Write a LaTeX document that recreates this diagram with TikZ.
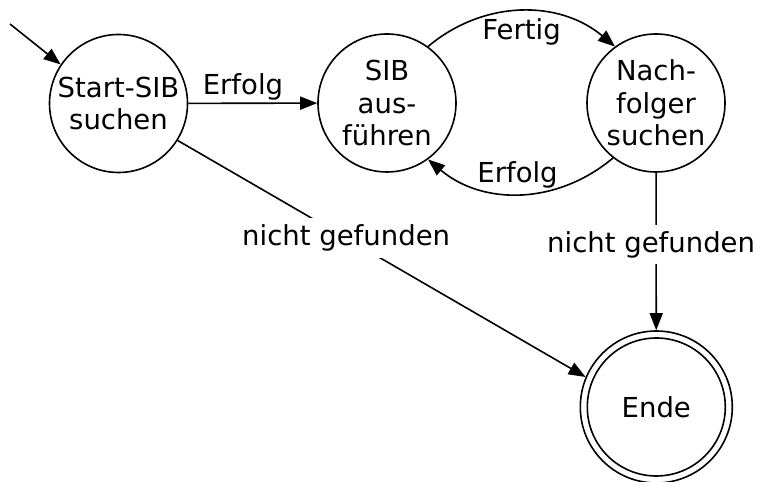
\documentclass[tikz,border=0pt]{standalone}
\usepackage{fontspec}
\setmainfont{DejaVu Sans}
\usetikzlibrary{arrows.meta}
\begin{document}
\begin{tikzpicture}[x=1bp,y=1bp,
  every node/.style={font=\fontsize{27.5bp}{32.5bp}\selectfont},
  stategraph/.style={circle, draw, line width=1.6bp, minimum size=138bp, inner sep=0pt, align=center},
  endstate/.style={circle, draw, line width=1.6bp, minimum size=152bp, inner sep=0pt},
  conn/.style={line width=1.6bp, -{Triangle[length=17bp,width=13bp]}},
  gaplabel/.style={fill=white, inner sep=6.5bp}
]
\useasboundingbox (0,0) rectangle (761,482);

% states
\node[stategraph] (start) at (118.5,378.5) {Start-SIB\\suchen};
\node[stategraph] (sib)   at (387,379)     {SIB\\aus-\\führen};
\node[stategraph] (nach)  at (656,379)     {Nach-\\folger\\suchen};
\node[endstate]   (ende)  at (656.3,75)    {Ende};
\node[stategraph] (endeinner) at (ende) {};

% entry point
\coordinate (init) at (10,458);

% transitions
\draw[conn] (init) -- (start.146);
\draw[conn] (start) -- node[pos=0.424, above, inner sep=2.5bp] {Erfolg} (sib);
\draw[conn] (sib.54) to[out=40,in=140]
  node[pos=0.5, below, inner sep=6bp] {Fertig} (nach.126);
\draw[conn] (nach.232) to[out=220,in=320]
  node[pos=0.5, above, inner sep=5bp, xshift=-3bp] {Erfolg} (sib.306);
\draw[conn] (start.-32) -- node[pos=0.413, gaplabel] {nicht gefunden} (ende.157);
\draw[conn] (nach) -- node[pos=0.456, gaplabel, xshift=-5bp] {nicht gefunden} (ende);
\end{tikzpicture}
\end{document}
